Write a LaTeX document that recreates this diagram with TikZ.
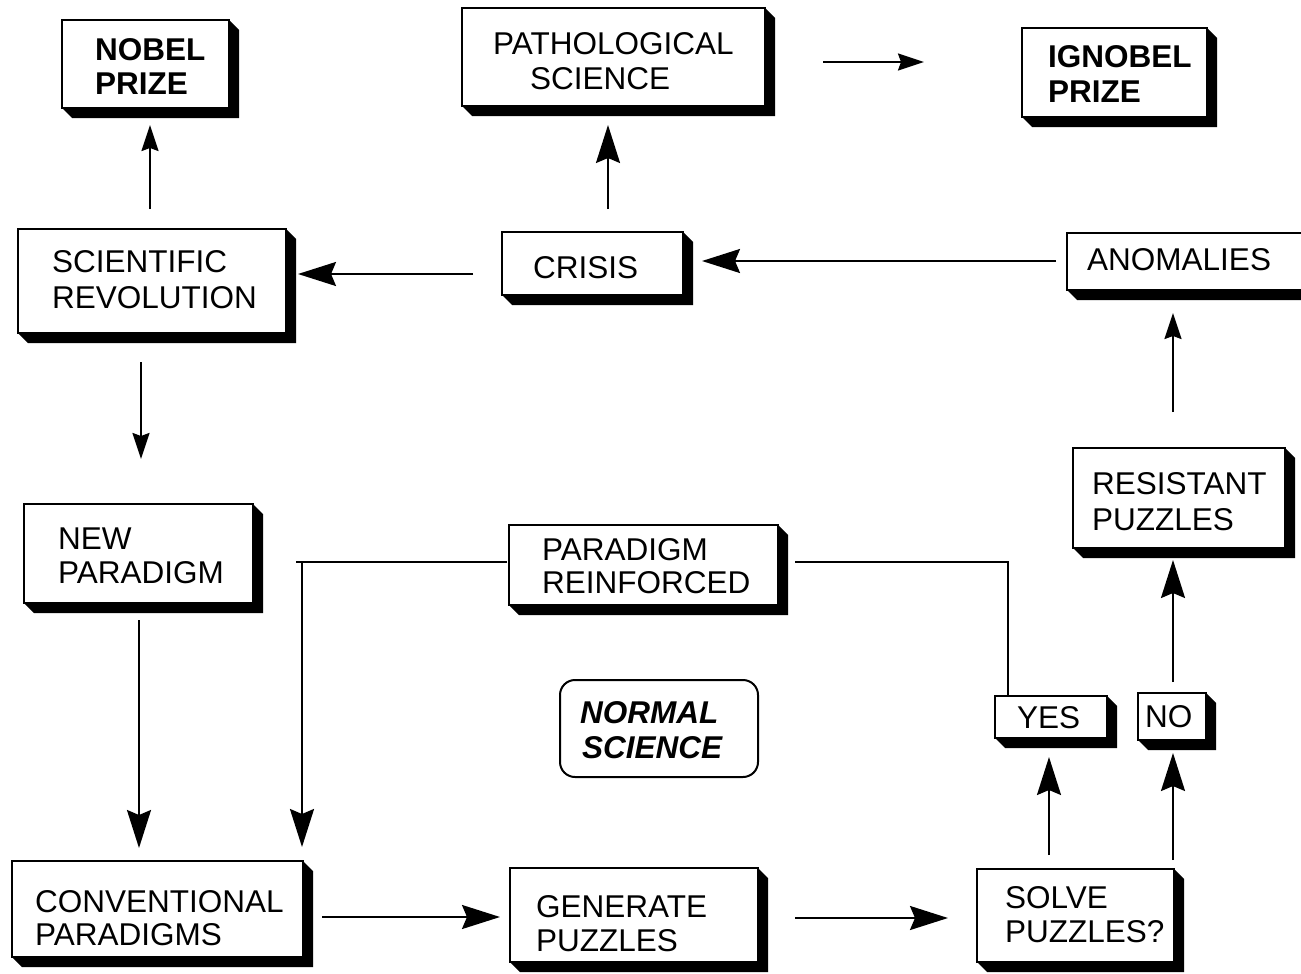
\documentclass[tikz,border=0pt]{standalone}
\usepackage{fontspec}
\setmainfont{Liberation Sans}
\usetikzlibrary{arrows.meta,calc,fit}
\newcommand{\shbox}[5]{%
  \fill ({#2},{#5}) -- ({#2+10},{#5+10}) -- ({#4+10},{#5+10}) -- ({#4+10},{#3+10}) -- ({#4},{#3}) -- cycle;
  \node[box, fit={(#2,#3) (#4,#5)}] (#1) {};
}
\begin{document}
\begin{tikzpicture}[x=1pt, y=-1pt,
  box/.style={draw, line width=2pt, fill=white, inner sep=0pt, outer sep=0pt},
  rbox/.style={draw, line width=2pt, fill=white, inner sep=0pt, outer sep=0pt, rounded corners=15pt},
  txt/.style={anchor=base west, inner sep=0pt, font=\fontsize{31.5}{36}\selectfont},
  btxt/.style={txt, font=\fontsize{31.5}{36}\selectfont\bfseries},
  bitxt/.style={txt, font=\fontsize{31.5}{36}\selectfont\bfseries\itshape},
  conn/.style={line width=2.2pt},
  bigarr/.style={conn, -{Stealth[length=38pt,width=24pt,inset=5pt]}},
  smallarr/.style={conn, -{Stealth[length=26pt,width=17pt,inset=3pt]}}]
\useasboundingbox (0,0) rectangle (1301,974);
\clip (0,0) rectangle (1301,974);

% boxes
\shbox{nobel}{62}{20}{229}{108}
\shbox{path}{462}{8}{765}{106}
\shbox{ignobel}{1022}{28}{1207}{117}
\shbox{sci}{18}{229}{286}{333}
\shbox{crisis}{502}{232}{683}{295}
\shbox{anom}{1067}{233}{1320}{290}
\shbox{newp}{24}{504}{253}{603}
\shbox{pr}{509}{525}{778}{605}
\shbox{res}{1073}{448}{1285}{548}
\shbox{yes}{995}{696}{1107}{738}
\shbox{no}{1138}{693}{1206}{740}
\shbox{conv}{12}{861}{303}{957}
\shbox{gen}{510}{868}{758}{962}
\shbox{solve}{977}{869}{1174}{962}
\node[rbox, fit={(560,680) (758,777)}] (normal) {};

% texts
\node[btxt] (nobelA) at (95,60) {NOBEL};
\node[btxt] (nobelB) at (95,95) {PRIZE};
\node[txt] (pathA) at (493,55) {PATHOLOGICAL};
\node[txt] (pathB) at (530,89) {SCIENCE};
\node[btxt] (ignobelA) at (1048,67) {IGNOBEL};
\node[btxt] (ignobelB) at (1048,102) {PRIZE};
\node[txt] (sciA) at (52,272) {SCIENTIFIC};
\node[txt] (sciB) at (52,308) {REVOLUTION};
\node[txt] (crisisA) at (533,278) {CRISIS};
\node[txt] (anomA) at (1087,270) {ANOMALIES};
\node[txt] (resA) at (1092,494) {RESISTANT};
\node[txt] (resB) at (1092,530) {PUZZLES};
\node[txt] (yesA) at (1017,728) {YES};
\node[txt] (noA) at (1145,727) {NO};
\node[txt] (prA) at (542,560) {PARADIGM};
\node[txt] (prB) at (542,593) {REINFORCED};
\node[bitxt] (normalA) at (580,723) {NORMAL};
\node[bitxt] (normalB) at (582,758) {SCIENCE};
\node[txt] (newpA) at (58,549) {NEW};
\node[txt] (newpB) at (58,583) {PARADIGM};
\node[txt] (convA) at (35,912) {CONVENTIONAL};
\node[txt] (convB) at (35,945) {PARADIGMS};
\node[txt] (genA) at (536,917) {GENERATE};
\node[txt] (genB) at (536,951) {PUZZLES};
\node[txt] (solveA) at (1005,908) {SOLVE};
\node[txt] (solveB) at (1005,942) {PUZZLES?};

% connectors
\draw[smallarr] ($(sci.north)+(-2,-20)$) -- ($(nobel.south)+(4.5,17)$);
\draw[bigarr] ($(crisis.north)+(15.5,-23)$) -- ($(path.south)+(-5.5,19)$);
\draw[smallarr] ($(path.east)+(58,5)$) -- ($(ignobel.west)+(-98,-10.5)$);
\draw[bigarr] ($(anom.west)+(-11,-0.5)$) -- ($(crisis.east)+(19,-2.5)$);
\draw[bigarr] ($(crisis.west)+(-29,10.5)$) -- ($(sci.east)+(12,-7)$);
\draw[smallarr] ($(sci.south)+(-11,29)$) -- ($(newp.north)+(2.5,-45)$);
\draw[bigarr] ($(newp.south)+(0.5,17)$) -- ($(conv.north)+(-18.5,-13)$);
\draw[conn] ($(pr.west)+(-2,-3)$) -- ($(pr.west)+(-213,-3)$);
\draw[bigarr] ($(pr.west)+(-207,-3)$) -- ($(conv.east)+(-1,-62)$);
\draw[conn] ($(yes.north)+(-43,0)$) |- ($(pr.east)+(17,-3)$);
\draw[bigarr] ($(solve.north)+(-26.5,-14)$) -- ($(yes.south)+(-2,19)$);
\draw[bigarr] ($(solve.north)+(97.5,-9)$) -- ($(no.south)+(1,13)$);
\draw[bigarr] ($(no.north)+(1,-11)$) -- ($(res.south)+(-6,12)$);
\draw[smallarr] ($(res.north)+(-6,-36)$) -- ($(anom.south)+(-20.5,23)$);
\draw[bigarr] ($(conv.east)+(19,8)$) -- ($(gen.west)+(-10,2)$);
\draw[bigarr] ($(gen.east)+(37,3)$) -- ($(solve.west)+(-29,2.5)$);
\end{tikzpicture}
\end{document}
